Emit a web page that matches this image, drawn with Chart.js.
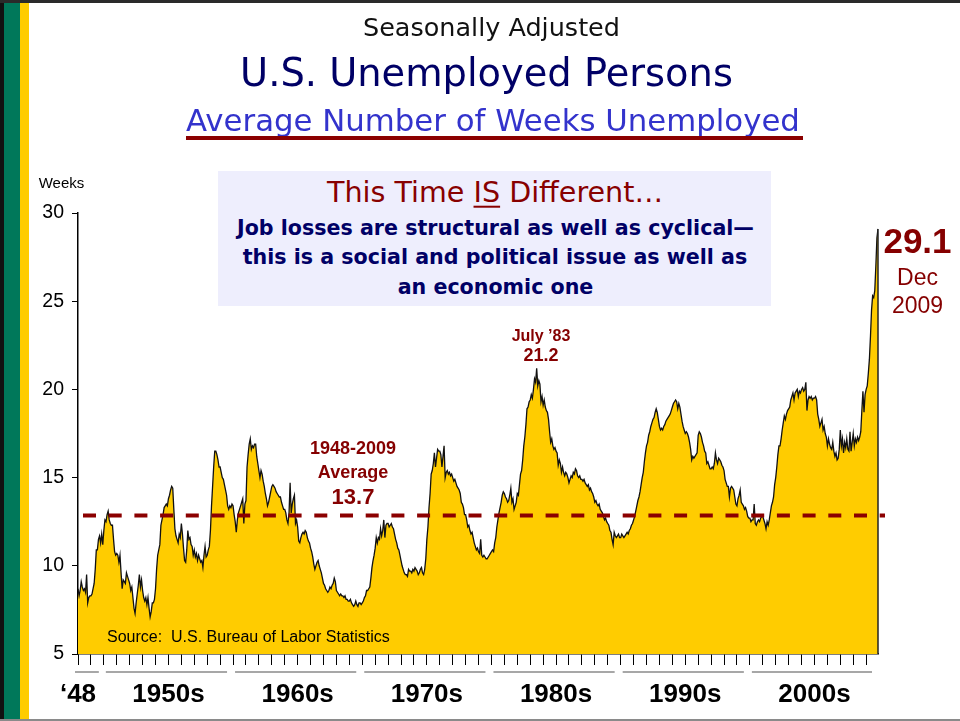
<!DOCTYPE html>
<html><head><meta charset="utf-8">
<script src="https://cdn.jsdelivr.net/npm/chart.js@4.4.1/dist/chart.umd.min.js"></script>
<style>
html,body{margin:0;padding:0;background:#fff;}
#wrap{position:relative;width:960px;height:721px;overflow:hidden;background:#fff;}
canvas{position:absolute;left:0;top:0;}
.blk{position:absolute;}
.t{position:absolute;white-space:nowrap;line-height:1;transform:translate(-50%,-50%);}
.dr{color:#850000;font-family:'Liberation Sans',Arial,sans-serif;}
</style></head>
<body><div id="wrap">
<canvas id="c" width="960" height="721"></canvas>
<div class="blk" style="left:0;top:0;width:4px;height:721px;background:#111"></div>
<div class="blk" style="left:4px;top:0;width:16px;height:721px;background:#00785a"></div>
<div class="blk" style="left:20px;top:0;width:9px;height:721px;background:#ffcc00"></div>
<div class="blk" style="left:0;top:0;width:960px;height:3px;background:#2a2a2a"></div>
<div class="blk" style="left:0;top:719px;width:960px;height:2px;background:#8a8a8a"></div>

<div class="t fit" data-w="257" style="left:491.5px;top:27.5px;font-size:25px;font-family:'DejaVu Sans';color:#111">Seasonally Adjusted</div>
<div class="t fit" data-w="493" style="left:486.5px;top:72.5px;font-size:38px;font-family:'DejaVu Sans';color:#000066">U.S. Unemployed Persons</div>
<div class="t fit" data-w="614" style="left:493px;top:119.5px;font-size:30px;font-family:'DejaVu Sans';color:#3333cc">Average Number of Weeks Unemployed</div>
<div class="blk" style="left:186px;top:136px;width:617px;height:4px;background:#8b0000"></div>

<div class="blk" style="left:218px;top:171px;width:553px;height:135px;background:#eeeefd"></div>
<div class="t fit" data-w="336" style="left:495px;top:192px;font-size:27px;font-family:'DejaVu Sans';color:#880000">This Time <u style="text-decoration-thickness:2px;text-underline-offset:4px">IS</u> Different…</div>
<div class="t fit body1" data-w="517" style="left:495.5px;top:227.5px;font-size:20.5px;font-weight:bold;font-family:'DejaVu Sans';color:#000066">Job losses are structural as well as cyclical—</div>
<div class="t body" style="left:495px;top:257px;font-size:20.5px;font-weight:bold;font-family:'DejaVu Sans';color:#000066">this is a social and political issue as well as</div>
<div class="t body" style="left:495.5px;top:286.5px;font-size:20.5px;font-weight:bold;font-family:'DejaVu Sans';color:#000066">an economic one</div>

<div class="t" style="left:61.5px;top:182px;font-size:15px;font-family:'Liberation Sans',Arial,sans-serif;color:#000">Weeks</div>
<div class="t" style="left:107px;top:637px;transform:translate(0,-50%);white-space:pre;font-size:16px;font-family:'Liberation Sans',Arial,sans-serif;color:#000">Source:  U.S. Bureau of Labor Statistics</div>

<div class="t dr" style="left:353px;top:448px;font-size:18px;font-weight:bold">1948-2009</div>
<div class="t dr" style="left:353px;top:471.5px;font-size:18px;font-weight:bold">Average</div>
<div class="t dr" style="left:353px;top:497px;font-size:22px;font-weight:bold">13.7</div>
<div class="t dr" style="left:541px;top:335.5px;font-size:16px;font-weight:bold">July ’83</div>
<div class="t dr" style="left:541px;top:355px;font-size:18px;font-weight:bold">21.2</div>
<div class="t dr" style="left:917.5px;top:240px;font-size:35px;font-weight:bold">29.1</div>
<div class="t dr" style="left:917.5px;top:277px;font-size:23px">Dec</div>
<div class="t dr" style="left:917.5px;top:305px;font-size:23px">2009</div>
</div>
<script>
// Average duration of unemployment (weeks), monthly, Jan 1948 - Dec 2009
const startYear = 1948;
const weeks1948to49 = [
 8.7, 8.3, 8.6, 9.1, 8.8, 8.6, 8.7, 8.5, 9.5, 7.9, 8.2, 8.3,
 8.3, 8.4, 8.7, 9.0, 9.8, 10.9, 10.9, 11.5, 11.7, 11.3, 11.8, 11.2
];
const weeks1950s = [
 12.0, 12.6, 12.5, 12.9, 13.1, 12.6, 12.4, 12.3, 12.3, 11.5, 10.8, 10.6,
 10.7, 10.6, 10.2, 10.6, 9.6, 8.7, 9.2, 9.1, 9.0, 9.6, 9.4, 9.2,
 9.0, 8.6, 8.8, 8.2, 7.6, 7.3, 7.9, 8.4, 8.9, 9.5, 8.8, 9.2,
 8.6, 8.2, 8.0, 8.2, 7.8, 8.2, 7.6, 7.1, 7.4, 7.9, 7.9, 8.1,
 8.7, 9.8, 10.6, 10.9, 11.2, 12.3, 12.6, 12.9, 13.3, 13.4, 13.5, 13.4,
 13.8, 14.0, 14.3, 14.5, 14.4, 13.2, 12.1, 11.7, 11.5, 11.3, 11.8, 11.6,
 12.4, 11.8, 11.0, 10.3, 10.2, 10.9, 12.0, 11.5, 11.6, 11.2, 11.1, 10.6,
 10.9, 10.5, 10.7, 10.3, 10.6, 10.4, 10.2, 10.3, 9.9, 10.6, 11.1, 10.5,
 10.6, 10.9, 11.1, 12.0, 13.4, 14.5, 15.6, 16.5, 16.5, 16.3, 16.0, 15.6,
 15.6, 15.3, 15.0, 14.9, 14.6, 14.3, 14.0, 13.4, 13.2, 13.4, 13.3, 13.5
];
const weeks1960s = [
 13.4, 12.9, 12.5, 11.9, 12.6, 13.0, 13.2, 13.4, 13.6, 13.8, 12.4, 13.5,
 13.7, 15.6, 16.3, 16.9, 17.2, 16.6, 16.8, 16.7, 16.9, 16.9, 16.2, 15.8,
 15.4, 15.0, 15.4, 15.2, 14.8, 14.5, 14.1, 13.8, 13.4, 13.6, 13.9, 14.2,
 14.5, 14.6, 14.5, 14.4, 14.2, 14.1, 14.0, 13.9, 13.9, 13.6, 13.4, 13.2,
 13.2, 13.0, 12.6, 12.4, 13.0, 14.7, 13.0, 13.5, 13.8, 14.0, 12.4, 12.6,
 12.2, 11.4, 11.3, 11.6, 11.8, 11.9, 11.8, 12.0, 11.9, 11.6, 11.4, 11.3,
 11.0, 10.8, 10.5, 10.1, 9.8, 10.0, 10.2, 10.3, 10.0, 9.8, 9.6, 9.3,
 9.0, 8.9, 8.7, 8.6, 8.5, 8.6, 8.8, 8.7, 8.9, 9.0, 9.3, 9.1,
 8.6, 8.5, 8.4, 8.3, 8.4, 8.3, 8.3, 8.2, 8.3, 8.1, 8.1, 8.0,
 8.0, 8.1, 7.9, 7.8, 7.7, 7.8, 8.0, 7.8, 7.7, 7.9, 7.9, 7.8
];
const weeks1970s = [
 7.9, 8.0, 8.2, 8.3, 8.6, 8.6, 8.7, 8.8, 9.3, 9.9, 10.3, 10.6,
 11.0, 11.6, 11.3, 11.6, 11.5, 12.1, 11.7, 12.0, 12.6, 11.6, 12.3, 12.4,
 12.4, 12.2, 12.3, 12.4, 12.2, 12.1, 11.8, 11.5, 11.3, 11.0, 10.9, 10.6,
 10.3, 10.0, 9.8, 9.6, 9.5, 9.5, 9.4, 9.8, 9.7, 9.7, 9.6, 9.8,
 9.7, 9.9, 9.8, 9.7, 9.5, 9.6, 9.8, 9.9, 9.6, 9.5, 9.8, 10.4,
 11.5, 12.2, 13.3, 14.1, 15.2, 15.4, 15.8, 16.4, 15.6, 16.1, 16.6, 16.5,
 16.5, 16.3, 15.6, 16.2, 16.8, 15.0, 15.3, 15.4, 15.2, 15.3, 15.1, 15.2,
 15.0, 14.8, 14.9, 14.7, 14.5, 14.4, 14.3, 14.1, 13.6, 13.5, 13.3, 12.9,
 12.9, 12.6, 12.2, 12.3, 12.0, 11.8, 11.9, 11.6, 11.3, 11.1, 10.9, 11.0,
 10.8, 10.7, 11.5, 10.6, 10.5, 10.6, 10.5, 10.4, 10.4, 10.5, 10.6, 10.7
];
const weeks1980s = [
 10.8, 10.9, 10.8, 11.3, 11.6, 12.2, 12.6, 13.0, 13.3, 13.6, 14.0, 14.2,
 14.1, 13.9, 13.8, 13.6, 13.7, 14.0, 14.4, 13.6, 13.8, 13.2, 13.4, 13.6,
 14.1, 14.0, 14.6, 15.2, 15.4, 16.0, 16.8, 17.3, 18.0, 18.9, 19.0, 19.3,
 19.4, 19.7, 19.5, 20.0, 20.6, 20.4, 21.2, 20.2, 20.5, 20.3, 19.3, 19.6,
 19.1, 19.4, 19.0, 18.8, 18.7, 18.3, 17.6, 17.0, 17.2, 16.8, 16.6, 16.7,
 16.5, 16.4, 15.7, 16.0, 15.8, 15.3, 15.6, 15.3, 15.1, 15.3, 15.2, 15.0,
 14.7, 14.9, 15.1, 15.0, 15.3, 15.2, 15.5, 15.4, 15.1, 15.0, 15.1, 14.9,
 14.9, 14.8, 14.9, 14.7, 14.6, 14.5, 14.6, 14.3, 14.4, 14.2, 14.1, 13.9,
 13.6, 13.7, 13.5, 13.4, 13.5, 13.2, 13.1, 13.0, 12.8, 12.6, 12.7, 12.5,
 12.4, 12.3, 12.0, 11.9, 11.5, 11.2, 11.9, 11.7, 11.6, 11.7, 11.8, 11.6
];
const weeks1990s = [
 11.6, 11.8, 11.7, 11.6, 11.7, 11.8, 11.9, 11.8, 12.0, 12.1, 12.3, 12.4,
 12.6, 12.8, 13.1, 13.4, 13.7, 13.9, 14.2, 14.6, 15.0, 15.3, 15.9, 16.4,
 16.8, 17.0, 17.4, 17.6, 17.9, 18.1, 18.3, 18.4, 18.7, 18.9, 18.7, 18.3,
 17.9, 17.7, 17.8, 17.7, 17.9, 18.0, 18.2, 18.3, 18.4, 18.5, 18.6, 18.8,
 19.0, 19.2, 19.3, 19.4, 19.3, 18.9, 19.2, 19.0, 18.6, 18.2, 17.9, 17.7,
 17.5, 17.6, 17.5, 17.3, 17.0, 16.6, 16.0, 16.2, 16.1, 16.2, 16.3, 16.4,
 17.4, 17.6, 17.5, 17.3, 17.0, 16.8, 16.5, 16.4, 15.8, 15.9, 15.7, 15.5,
 15.5, 15.6, 15.5, 15.8, 16.4, 16.0, 15.8, 16.1, 16.0, 15.9, 15.7, 15.6,
 15.4, 14.9, 14.7, 14.5, 14.5, 13.9, 14.4, 14.5, 14.4, 14.3, 13.9, 13.5,
 13.4, 13.8, 14.0, 14.3, 13.6, 13.5, 13.4, 13.2, 13.3, 13.1, 12.8, 12.7
];
const weeks2000s = [
 12.7, 12.5, 12.6, 12.6, 13.5, 12.4, 12.3, 12.5, 12.6, 12.5, 12.7, 12.8,
 12.8, 12.6, 12.4, 12.1, 12.5, 12.3, 12.6, 13.0, 13.4, 13.6, 13.9, 14.6,
 15.0, 15.6, 16.3, 16.8, 16.8, 17.2, 17.7, 18.1, 18.5, 18.3, 18.6, 18.8,
 18.9, 19.0, 19.4, 19.6, 19.8, 19.4, 19.8, 19.9, 20.0, 19.6, 19.9, 19.8,
 20.0, 20.1, 19.9, 20.0, 20.4, 18.8, 19.4, 19.6, 19.5, 19.6, 19.4, 19.5,
 19.5, 19.6, 19.4, 18.6, 18.3, 17.9, 18.1, 18.3, 17.7, 17.9, 17.5, 17.3,
 16.8, 17.2, 16.9, 16.7, 16.6, 17.0, 16.5, 16.2, 16.4, 16.0, 16.1, 16.6,
 17.7, 16.8, 17.2, 16.4, 17.0, 16.7, 17.2, 16.6, 16.5, 17.6, 16.5, 17.0,
 17.5, 16.8, 17.2, 17.0, 17.3, 17.1, 17.3, 17.6, 18.8, 19.9, 18.7, 19.7,
 20.0, 20.2, 20.9, 21.7, 23.0, 24.5, 25.3, 25.2, 25.6, 27.0, 28.6, 29.1
];
// level at which the dashed "average" line is drawn in the original picture
const averageLineLevel = 12.85;
// x-axis decade labels and the year each is centred on
const decadeLabels = ['‘48', '1950s', '1960s', '1970s', '1980s', '1990s', '2000s'];
const decadeLabelYears = [1948, 1955, 1965, 1975, 1985, 1995, 2005];
const decadeSpanStart = [1948, 1950, 1960, 1970, 1980, 1990, 2000];
const decadeSpanEnd = [1950, 1960, 1970, 1980, 1990, 2000, 2010];
const yTickValues = [5, 10, 15, 20, 25, 30];

const monthly = [].concat(weeks1948to49, weeks1950s, weeks1960s, weeks1970s, weeks1980s, weeks1990s, weeks2000s);
const points = monthly.map((v, i) => ({x: startYear + i / 12, y: v}));
const lastPt = points[points.length - 1];

// fit titles to reference widths
document.querySelectorAll('.fit').forEach(el => {
  const w = el.getBoundingClientRect().width;
  const fs = parseFloat(getComputedStyle(el).fontSize);
  el.style.fontSize = (fs * (+el.dataset.w) / w).toFixed(2) + 'px';
});
const b1 = document.querySelector('.body1');
document.querySelectorAll('.body').forEach(el => { el.style.fontSize = b1.style.fontSize; });

const overlay = {
  id: 'overlay',
  afterDatasetsDraw(chart) {
    const {ctx, scales: {x, y}, chartArea} = chart;
    ctx.save();
    const lx = x.getPixelForValue(lastPt.x);
    ctx.strokeStyle = '#222'; ctx.lineWidth = 1.5;
    ctx.beginPath(); ctx.moveTo(lx, y.getPixelForValue(lastPt.y)); ctx.lineTo(lx, chartArea.bottom); ctx.stroke();
    const ay = y.getPixelForValue(averageLineLevel);
    ctx.strokeStyle = '#8b0000'; ctx.lineWidth = 4; ctx.setLineDash([13, 12.7]);
    ctx.beginPath(); ctx.moveTo(chartArea.left + 5, ay); ctx.lineTo(chartArea.right + 7, ay); ctx.stroke();
    ctx.restore();
  },
  afterDraw(chart) {
    const {ctx, scales: {x}} = chart;
    ctx.save();
    ctx.strokeStyle = '#8a8a8a'; ctx.lineWidth = 1.5;
    const yy = x.top + 18;
    decadeSpanStart.forEach((s, i) => {
      const e = Math.min(decadeSpanEnd[i], lastPt.x);
      ctx.beginPath();
      ctx.moveTo(x.getPixelForValue(s) + (i === 0 ? -3 : 2), yy);
      ctx.lineTo(x.getPixelForValue(e) - (i === 0 ? 5 : 6), yy);
      ctx.stroke();
    });
    ctx.restore();
  }
};

new Chart(document.getElementById('c'), {
  type: 'line',
  data: { datasets: [{
    data: points,
    borderColor: '#111', borderWidth: 1.3,
    backgroundColor: '#ffcc00', fill: 'start',
    pointRadius: 0, tension: 0
  }]},
  options: {
    responsive: false, animation: false,
    layout: { padding: { top: 213, right: 82, bottom: 0, left: 0 } },
    plugins: { legend: { display: false }, tooltip: { enabled: false } },
    scales: {
      x: {
        type: 'linear', min: startYear, max: lastPt.x, z: 1,
        afterFit: s => { s.height = 67; },
        afterBuildTicks: s => { s.ticks = s.ticks.filter(t => Math.abs(t.value - Math.round(t.value)) < 1e-6); },
        ticks: {
          stepSize: 1, includeBounds: false, autoSkip: false, maxRotation: 0, minRotation: 0,
          padding: 14, color: '#000',
          font: { family: "'Liberation Sans', Arial, sans-serif", size: 26, weight: 'bold' },
          callback: v => { const i = decadeLabelYears.indexOf(Math.round(v)); return i >= 0 ? decadeLabels[i] : ''; }
        },
        grid: { drawOnChartArea: false, drawTicks: true, tickLength: 11, color: '#000', lineWidth: 1 },
        border: { display: true, color: '#000', width: 1.5 }
      },
      y: {
        min: 5, max: 30, z: 1,
        afterFit: s => { s.width = 78; },
        afterBuildTicks: s => { s.ticks = yTickValues.map(v => ({value: v})); },
        ticks: { stepSize: 5, padding: 8, color: '#000',
          font: { family: "'Liberation Sans', Arial, sans-serif", size: 19.5 } },
        grid: { drawOnChartArea: false, drawTicks: true, tickLength: 6, color: '#000', lineWidth: 1 },
        border: { display: true, color: '#000', width: 1.5 }
      }
    }
  },
  plugins: [overlay]
});
</script>
</body></html>
